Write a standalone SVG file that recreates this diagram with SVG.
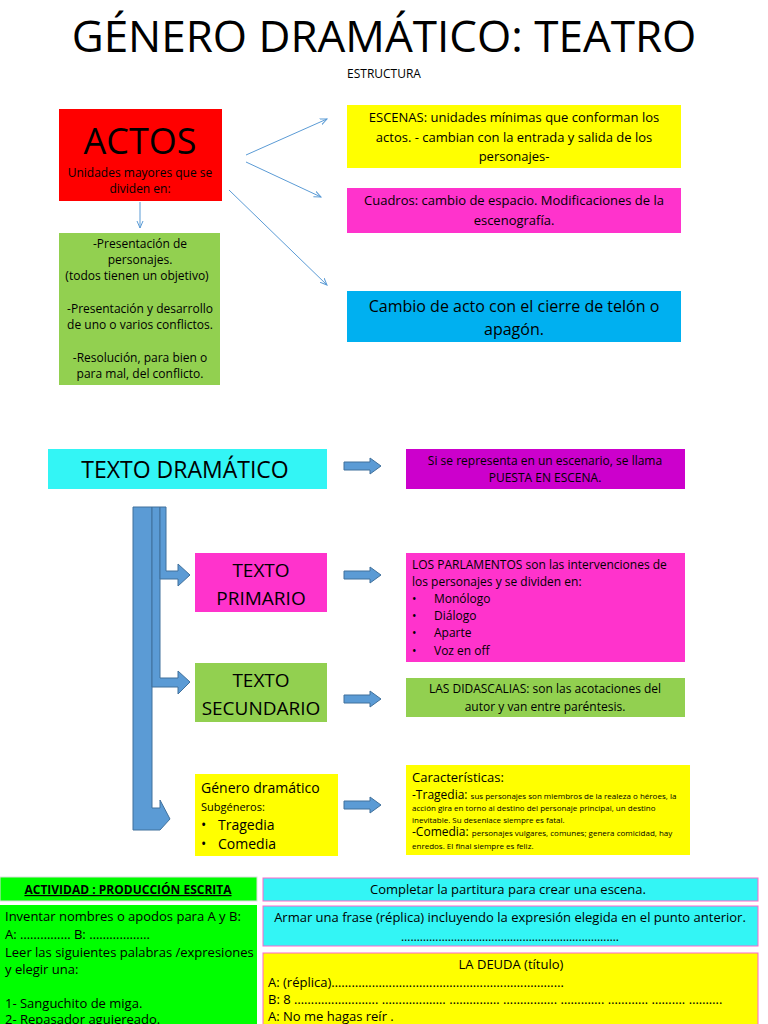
<svg xmlns="http://www.w3.org/2000/svg" width="768" height="1024" viewBox="0 0 768 1024">
<style>
text{font-family:"Open Sans","DejaVu Sans",sans-serif;fill:#000}
.c{text-anchor:middle}
.ln{stroke:#5b9bd5;stroke-width:1;fill:none}
.blk{fill:#5b9bd5;stroke:#41719c;stroke-width:1}
</style>
<defs><marker id="a" markerWidth="8" markerHeight="8" refX="7" refY="4" orient="auto"><path d="M0,1 L7,4 L0,7" fill="none" stroke="#5b9bd5"/></marker></defs>
<rect width="768" height="1024" fill="#fff"/>
<text x="384" y="52" class="c" font-size="44">GÉNERO DRAMÁTICO: TEATRO</text>
<text x="384" y="78" class="c" font-size="12">ESTRUCTURA</text>
<g id="actos"><rect x="59" y="109" width="163" height="92" fill="#ff0000"/>
<text x="140" y="154" class="c" font-size="36">ACTOS</text>
<text x="140" y="177" class="c" font-size="12">Unidades mayores que se</text><text x="140" y="193" class="c" font-size="12">dividen en:</text></g>
<g id="lista"><rect x="59" y="233" width="161" height="152" fill="#92d050"/>
<g class="c" font-size="12"><text x="140" y="248" class="c">-Presentación de</text><text x="140" y="264" class="c">personajes.</text><text x="137" y="280" class="c">(todos tienen un objetivo)</text><text x="140" y="313" class="c">-Presentación y desarrollo</text><text x="140" y="329" class="c">de uno o varios  conflictos.</text><text x="140" y="362" class="c">-Resolución, para bien o</text><text x="140" y="378" class="c">para mal, del conflicto.</text></g></g>
<g id="escenas"><rect x="347" y="105" width="334" height="63" fill="#ffff00"/>
<text x="514" y="122" class="c" font-size="13">ESCENAS: unidades mínimas que conforman los</text><text x="514" y="142" class="c" font-size="13">actos.  - cambian con la entrada y salida de los</text><text x="514" y="161" class="c" font-size="13">personajes-</text></g>
<g id="cuadros"><rect x="347" y="188" width="334" height="45" fill="#ff33cc"/>
<text x="514" y="205" class="c" font-size="13">Cuadros: cambio de espacio. Modificaciones de la</text><text x="514" y="225" class="c" font-size="13">escenografía.</text></g>
<g id="cambio"><rect x="347" y="291" width="334" height="51" fill="#00b0f0"/>
<text x="514" y="312" class="c" font-size="16">Cambio de acto con el cierre de telón o</text><text x="514" y="335" class="c" font-size="16">apagón.</text></g>
<g id="td"><rect x="48" y="449" width="279" height="40" fill="#33f5f5"/><text x="185" y="478" class="c" font-size="23">TEXTO DRAMÁTICO</text></g>
<g id="puesta"><rect x="406" y="449" width="279" height="40" fill="#cc00cc"/><text x="545" y="465" class="c" font-size="12">Si se representa en un escenario, se llama</text><text x="545" y="482" class="c" font-size="12">PUESTA EN ESCENA.</text></g>
<g id="tp"><rect x="195" y="553" width="132" height="59" fill="#ff33cc"/><text x="261" y="577" class="c" font-size="19">TEXTO</text><text x="261" y="605" class="c" font-size="19">PRIMARIO</text></g>
<g id="parl"><rect x="406" y="553" width="279" height="109" fill="#ff33cc"/>
<g font-size="12"><text x="412" y="569">LOS PARLAMENTOS son las intervenciones de</text><text x="412" y="586">los personajes y se dividen en:</text>
<text x="412" y="603">•</text><text x="434" y="603">Monólogo</text><text x="412" y="620">•</text><text x="434" y="620">Diálogo</text><text x="412" y="637">•</text><text x="434" y="637">Aparte</text><text x="412" y="655">•</text><text x="434" y="655">Voz en off</text></g></g>
<g id="ts"><rect x="195" y="663" width="132" height="59" fill="#92d050"/><text x="261" y="687" class="c" font-size="19">TEXTO</text><text x="261" y="715" class="c" font-size="19">SECUNDARIO</text></g>
<g id="did"><rect x="406" y="678" width="279" height="39" fill="#92d050"/><text x="545" y="693" class="c" font-size="12">LAS DIDASCALIAS: son las acotaciones del</text><text x="545" y="711" class="c" font-size="12">autor y van entre paréntesis.</text></g>
<g id="gd"><rect x="195" y="774" width="143" height="82" fill="#ffff00"/>
<text x="201" y="793" font-size="14">Género dramático</text><text x="201" y="811" font-size="11">Subgéneros:</text>
<text x="201" y="830" font-size="14">•</text><text x="218" y="830" font-size="14">Tragedia</text><text x="201" y="849" font-size="14">•</text><text x="218" y="849" font-size="14">Comedia</text></g>
<g id="car"><rect x="406" y="765" width="284" height="90" fill="#ffff00"/>
<text x="412" y="782" font-size="13">Características:</text>
<text x="412" y="799" font-size="12">-Tragedia: <tspan font-size="8">sus personajes  son miembros de la realeza o héroes, la</tspan></text>
<text x="412" y="811" font-size="8">acción gira en torno al destino del personaje principal, un destino</text>
<text x="412" y="823" font-size="8">inevitable. Su desenlace siempre es fatal.</text>
<text x="412" y="836" font-size="12">-Comedia: <tspan font-size="8">personajes vulgares, comunes; genera comicidad, hay</tspan></text>
<text x="412" y="849" font-size="8">enredos. El final  siempre es feliz.</text></g>
<g id="act"><rect x="0" y="877" width="257" height="24" fill="#00ff00" stroke="#ddd"/><text x="128" y="894" class="c" font-size="12" font-weight="bold" text-decoration="underline">ACTIVIDAD : PRODUCCIÓN ESCRITA</text></g>
<g id="inv"><rect x="0" y="905" width="257" height="119" fill="#00ff00"/>
<g font-size="13"><text x="5" y="921">Inventar nombres o apodos para A y B:</text><text x="5" y="939">A: ……………   B:  ………………</text><text x="5" y="957">Leer  las siguientes  palabras /expresiones</text><text x="5" y="974">y elegir una:</text><text x="5" y="1008">1-  Sanguchito de miga.</text><text x="5" y="1024">2-  Repasador agujereado.</text></g></g>
<g id="comp"><rect x="263" y="878" width="495" height="23" fill="#33f5f5" stroke="#ff66cc"/><text x="508" y="894" class="c" font-size="13">Completar la partitura para crear una escena.</text></g>
<g id="armar"><rect x="263" y="906" width="495" height="40" fill="#33f5f5" stroke="#ff66cc"/><text x="510" y="922" class="c" font-size="13">Armar una frase (réplica) incluyendo la expresión elegida en el punto anterior.</text><text x="510" y="941" class="c" font-size="12">…………………………………………………………….</text></g>
<g id="deuda"><rect x="263" y="953" width="495" height="80" fill="#ffff00" stroke="#ff66cc"/>
<text x="511" y="969" class="c" font-size="13">LA DEUDA (título)</text>
<g font-size="13"><text x="268" y="987">A: (réplica)……………………………………………………………</text><text x="268" y="1004">B: 8 ……………………. ………………. …………… ……………. …………. ………… ………. ……….</text><text x="268" y="1021">A: No me hagas reír .</text></g></g>
<g id="connectors">
<path class="ln" d="M140,202 V228" marker-end="url(#a)"/>
<path class="ln" d="M246,155 L327,119" marker-end="url(#a)"/>
<path class="ln" d="M246,162 L321,197" marker-end="url(#a)"/>
<path class="ln" d="M229,190 L327,285" marker-end="url(#a)"/>
<path class="blk" d="M344,462 H370 V458 L381,466 L370,474 V470 H344 Z"/>
<path class="blk" d="M344,571 H370 V567 L381,575 L370,583 V579 H344 Z"/>
<path class="blk" d="M344,695 H370 V691 L381,699 L370,707 V703 H344 Z"/>
<path class="blk" d="M344,801 H370 V797 L381,805 L370,813 V809 H344 Z"/>
<path class="blk" d="M133,507 H152 V808 H160 V800 L170,819 L160,830 V830 H133 Z"/>
<path class="blk" d="M152,507 H160 V678 H178 V671 L190,682 L178,694 V687 H152 Z"/>
<path class="blk" d="M160,507 H166 V571 H178 V564 L190,575 L178,586 V579 H160 Z"/>
</g>
</svg>
